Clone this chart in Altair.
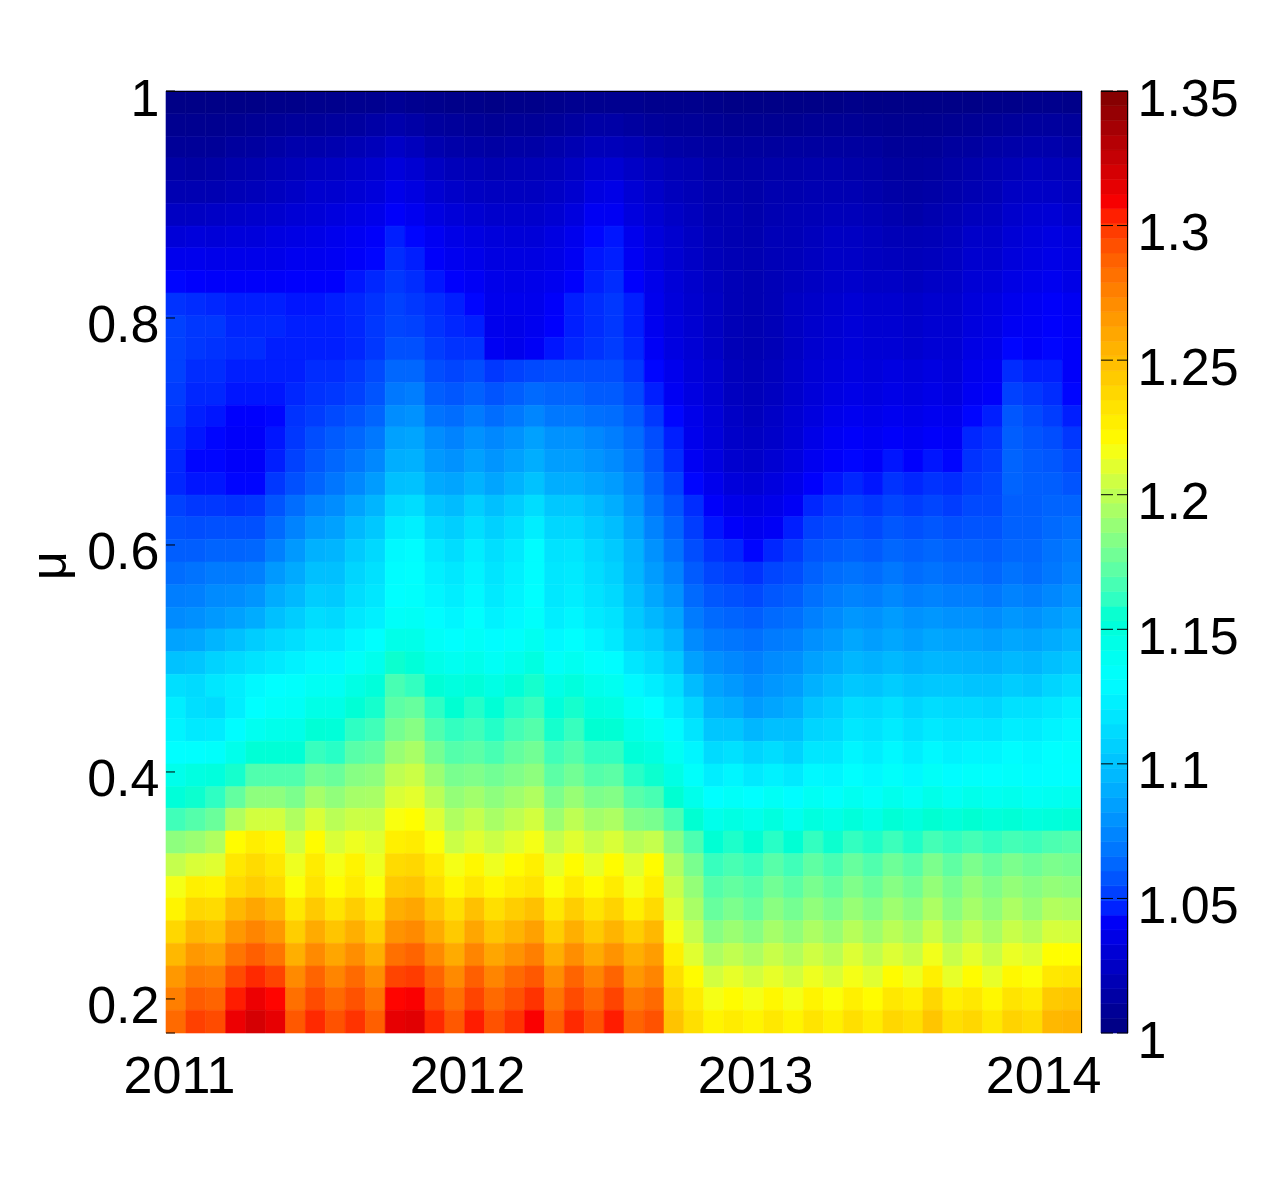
import altair as alt
import pandas as pd

# time edges of the columns (decimal years)
X_EDGES = [2010.955, 2011.024, 2011.093, 2011.162, 2011.232, 2011.301, 2011.370, 2011.439, 2011.508, 2011.577, 2011.647, 2011.716,
           2011.785, 2011.854, 2011.923, 2011.992, 2012.061, 2012.131, 2012.200, 2012.269, 2012.338, 2012.407, 2012.476, 2012.545,
           2012.615, 2012.684, 2012.753, 2012.822, 2012.891, 2012.960, 2013.030, 2013.099, 2013.168, 2013.237, 2013.306, 2013.375,
           2013.444, 2013.514, 2013.583, 2013.652, 2013.721, 2013.790, 2013.859, 2013.929, 2013.998, 2014.067, 2014.135]
# mu edges of the rows, top to bottom
MU_EDGES = [1.000, .980, .960, .941, .921, .901, .881, .862, .842, .822, .802, .783, .763, .743, .723, .704, .684, .664, .644, .625,
            .605, .585, .565, .545, .526, .506, .486, .466, .447, .427, .407, .387, .368, .348, .328, .308, .289, .269, .249, .229,
            .210, .190, .170]

# values, as thousandths above 1, one list per row, top to bottom
r01 = [3,3,3,3,3,4,4,5,5,6,6,8,6,5,4,4,3,4,4,5,6,6,6,6,5,5,5,4,3,3,3,3,3,3,4,3,3,3,3,3,3,4,4,5,5,4]
r02 = [6,6,6,7,8,9,10,10,11,12,14,16,14,11,10,9,8,9,9,10,12,14,14,12,10,9,9,8,7,7,7,7,8,8,8,7,6,6,6,7,8,9,10,11,11,10]
r03 = [9,9,9,11,12,14,16,16,17,19,21,25,22,17,15,14,13,14,14,16,18,21,21,19,16,14,13,12,11,11,11,12,12,12,12,11,9,9,9,11,12,14,15,16,16,14]
r04 = [14,13,14,16,17,19,21,23,24,26,28,32,29,24,21,20,18,19,20,21,24,28,29,25,22,19,18,15,14,14,15,15,16,16,15,14,12,11,12,14,16,18,20,22,21,20]
r05 = [18,18,18,20,21,23,25,28,28,30,32,37,34,29,26,24,23,23,23,25,28,34,36,30,26,22,20,17,16,15,17,17,18,18,18,16,14,13,14,16,18,20,24,25,25,23]
r06 = [24,24,25,26,27,28,30,31,33,35,37,42,39,34,31,29,27,27,27,29,33,40,40,33,29,25,22,18,18,16,18,19,20,21,21,19,17,15,17,19,22,23,27,29,30,27]
r07 = [31,32,31,32,32,34,35,36,38,40,42,46,44,40,36,34,32,31,31,34,38,44,45,38,32,28,24,20,18,17,20,20,22,24,24,22,20,19,20,22,26,26,30,32,34,32]
r08 = [38,38,37,37,37,37,39,39,40,42,44,48,46,42,39,37,34,34,34,36,40,45,46,40,34,29,25,21,19,18,20,21,23,25,25,23,22,21,22,24,28,28,32,34,36,34]
r09 = [44,43,42,42,42,42,43,43,43,45,47,50,48,45,43,41,37,36,37,39,43,46,48,43,37,31,27,23,20,18,20,22,24,26,27,25,25,23,25,26,30,31,35,37,39,36]
r10 = [49,48,47,46,46,46,45,45,46,47,49,52,50,48,46,44,38,38,38,42,46,48,50,46,38,32,28,24,20,18,20,24,26,28,30,28,28,26,28,28,32,34,38,40,42,40]
r11 = [52,50,50,47,47,47,46,46,46,47,50,53,52,49,47,46,38,37,39,43,46,48,50,46,39,33,29,24,20,18,20,24,27,29,31,29,29,27,29,29,33,35,40,41,43,41]
r12 = [52,50,49,48,48,46,46,46,46,47,50,56,56,51,49,49,40,38,41,45,47,49,51,47,41,34,30,25,20,18,20,24,28,30,32,30,30,28,30,30,35,37,44,42,44,42]
r13 = [52,48,48,46,46,46,46,48,48,50,54,63,63,55,53,55,50,52,54,55,55,55,55,50,44,38,32,28,22,20,22,26,30,32,34,32,34,32,34,32,38,40,48,46,46,42]
r14 = [51,47,47,45,45,45,47,49,50,52,57,69,71,60,58,61,57,60,64,62,62,59,59,54,46,40,34,29,23,21,23,27,31,34,36,34,36,34,36,34,40,42,52,50,48,44]
r15 = [50,46,45,43,43,44,49,51,54,57,62,77,79,67,65,70,65,69,74,69,69,66,65,59,50,44,37,31,25,22,25,29,33,37,39,37,39,37,39,38,44,46,58,54,51,46]
r16 = [48,45,44,42,42,45,50,55,59,63,69,85,87,77,73,79,75,79,85,79,79,75,71,65,55,46,38,32,26,24,26,30,36,40,42,40,42,40,42,41,47,49,60,57,55,50]
r17 = [47,44,44,42,42,46,52,58,63,68,75,91,92,82,79,85,80,85,91,84,84,80,76,69,58,48,40,34,28,26,29,33,39,42,44,42,45,43,45,44,49,51,62,59,58,54]
r18 = [47,45,45,44,44,50,56,62,68,75,83,99,100,89,87,93,87,93,100,91,91,87,83,75,62,52,44,38,32,30,33,37,43,45,47,45,49,47,49,48,51,53,62,60,60,57]
r19 = [52,50,50,49,50,57,65,73,77,86,94,110,113,101,97,106,99,105,113,103,103,97,91,81,67,57,48,42,37,35,37,41,47,50,52,50,53,51,53,51,54,54,60,60,62,62]
r20 = [56,55,56,56,56,64,73,82,85,96,103,120,123,110,106,114,107,113,122,110,110,104,98,87,73,62,51,45,42,39,41,46,52,54,56,54,58,56,58,56,57,57,61,61,64,66]
r21 = [60,60,62,62,63,72,82,92,94,104,111,128,130,119,113,122,114,120,130,116,117,110,104,93,79,67,55,49,47,44,47,51,57,59,61,59,63,61,63,61,61,60,63,63,67,70]
r22 = [65,67,70,70,72,82,89,99,99,109,115,130,132,123,119,125,117,123,130,118,120,113,107,95,83,73,59,53,51,49,53,55,61,65,67,65,69,65,67,65,65,63,67,65,69,73]
r23 = [71,72,76,77,80,90,96,105,104,113,118,131,133,126,122,128,120,125,131,119,122,116,111,99,88,79,64,58,56,54,58,60,66,70,73,71,75,71,73,71,71,69,73,71,75,79]
r24 = [76,78,82,85,90,99,105,113,111,119,123,135,137,130,126,132,124,128,134,122,126,120,116,104,95,87,70,64,62,60,64,66,72,76,81,79,83,79,81,79,79,77,81,79,83,87]
r25 = [86,88,94,99,105,110,114,120,120,126,132,144,144,136,132,136,130,134,140,128,132,126,120,108,104,94,76,70,68,66,70,72,78,82,88,84,88,84,88,86,86,84,88,86,90,94]
r26 = [100,102,108,112,116,120,124,128,128,136,142,156,152,144,140,143,137,142,148,136,140,134,130,118,112,104,85,78,75,72,76,78,85,89,95,92,96,92,95,94,93,92,96,94,99,103]
r27 = [114,112,118,122,128,131,133,138,138,146,151,167,162,153,149,152,146,152,157,145,150,143,140,128,122,114,97,86,82,77,81,84,92,97,103,101,105,101,103,103,101,101,105,103,109,113]
r28 = [122,114,112,122,131,135,137,145,145,153,157,172,175,161,155,159,153,159,163,151,157,149,147,137,131,121,109,93,90,83,87,91,101,105,113,111,115,109,113,111,111,109,115,115,119,123]
r29 = [125,120,121,130,140,143,144,153,152,161,165,179,184,169,162,165,159,166,170,157,163,155,154,144,139,129,117,102,102,95,99,99,109,111,119,116,121,115,120,117,118,117,122,121,125,128]
r30 = [131,132,134,143,153,153,153,163,160,171,174,189,194,179,170,172,167,174,178,165,170,162,162,152,148,138,126,112,115,109,113,108,118,118,126,122,128,122,128,124,126,126,130,128,131,133]
r31 = [143,148,150,157,169,169,169,179,176,184,186,200,204,190,180,182,178,182,186,172,178,170,172,160,156,146,134,122,126,120,124,120,128,126,132,128,134,128,136,130,134,132,134,130,132,132]
r32 = [152,156,161,174,186,186,181,193,187,193,194,208,211,199,188,192,186,191,196,181,189,181,183,171,167,155,143,131,135,131,137,130,138,134,140,135,142,137,144,139,143,140,142,138,140,142]
r33 = [165,170,176,196,206,206,196,208,199,204,203,217,219,209,196,202,194,200,206,190,200,192,195,183,180,168,155,143,147,143,149,141,149,145,151,145,153,149,155,151,155,151,153,149,151,153]
r34 = [186,190,196,220,227,223,206,220,208,214,210,226,228,218,204,210,204,210,216,202,210,202,208,198,202,184,168,154,158,154,160,154,162,156,162,158,164,158,166,162,166,162,166,164,168,170]
r35 = [202,208,210,230,236,230,214,228,216,224,214,236,238,228,216,222,214,220,226,212,220,212,220,210,220,196,180,163,167,163,171,165,173,167,175,169,177,171,181,173,181,175,181,177,181,179]
r36 = [216,226,224,236,242,236,218,232,220,228,218,244,246,234,222,230,222,228,232,218,228,220,228,216,226,203,188,170,174,170,178,172,180,174,182,176,184,178,188,180,188,182,188,184,188,186]
r37 = [224,238,236,252,260,252,230,244,232,242,230,256,260,246,234,248,234,242,248,230,242,232,240,226,236,209,194,175,181,175,185,179,187,181,189,183,191,185,195,185,193,187,195,189,197,195]
r38 = [238,252,248,266,274,266,242,258,246,256,242,268,272,258,244,260,246,254,262,242,256,244,254,242,252,216,202,184,190,184,193,187,195,189,198,191,199,193,204,193,201,194,203,198,207,206]
r39 = [252,266,262,280,288,280,256,272,260,270,256,282,286,272,258,274,260,268,276,256,270,258,268,256,264,226,210,195,201,195,203,197,205,199,209,201,209,203,215,203,211,203,213,209,219,219]
r40 = [266,278,276,294,302,296,272,286,274,284,270,296,298,286,272,288,274,284,290,270,286,274,286,266,274,234,220,206,212,206,212,206,214,208,216,210,220,214,226,212,220,212,222,218,230,232]
r41 = [276,289,286,304,312,306,282,294,284,292,280,306,308,294,282,296,284,292,300,280,294,284,296,278,284,241,228,216,220,216,222,216,224,218,226,220,230,226,238,226,230,222,232,228,244,246]
r42 = [284,297,294,312,320,314,290,302,292,300,288,314,316,302,290,304,292,300,308,288,302,292,304,286,292,247,234,224,228,224,230,224,232,226,234,228,238,234,246,234,238,230,240,236,252,254]
ROWS = [r01, r02, r03, r04, r05, r06, r07, r08, r09, r10, r11, r12, r13, r14, r15, r16, r17, r18, r19, r20, r21,
        r22, r23, r24, r25, r26, r27, r28, r29, r30, r31, r32, r33, r34, r35, r36, r37, r38, r39, r40, r41, r42]

X_TICKS = [2011, 2012, 2013, 2014]
Y_TICKS = [0.2, 0.4, 0.6, 0.8, 1]
Y_MARKS = [0.17, 0.2, 0.4, 0.6, 0.8, 1]
CB_TICKS = [1, 1.05, 1.1, 1.15, 1.2, 1.25, 1.3, 1.35]
CB_EDGES = [1.0000, 1.0055, 1.0109, 1.0164, 1.0219, 1.0273, 1.0328, 1.0383, 1.0438, 1.0492, 1.0547, 1.0602, 1.0656, 1.0711,
            1.0766, 1.0820, 1.0875, 1.0930, 1.0984, 1.1039, 1.1094, 1.1148, 1.1203, 1.1258, 1.1313, 1.1367, 1.1422, 1.1477,
            1.1531, 1.1586, 1.1641, 1.1695, 1.1750, 1.1805, 1.1859, 1.1914, 1.1969, 1.2023, 1.2078, 1.2133, 1.2188, 1.2242,
            1.2297, 1.2352, 1.2406, 1.2461, 1.2516, 1.2570, 1.2625, 1.2680, 1.2734, 1.2789, 1.2844, 1.2898, 1.2953, 1.3008,
            1.3063, 1.3117, 1.3172, 1.3227, 1.3281, 1.3336, 1.3391, 1.3445, 1.3500]

JET_DOMAIN = [1, 1.04375, 1.13125, 1.21875, 1.30625, 1.35]
JET_RANGE = ["#00007f", "#0000ff", "#00ffff", "#ffff00", "#ff0000", "#7f0000"]
FONT = "Liberation Sans"
W, H, CBW = 916, 942, 27

records = []
for i, row in enumerate(ROWS):
    for j, v in enumerate(row):
        records.append({"x": X_EDGES[j], "x2": X_EDGES[j + 1], "y": MU_EDGES[i + 1], "y2": MU_EDGES[i], "v": 1 + v / 1000})
grid = pd.DataFrame(records)
cbar = pd.DataFrame([{"y": a, "y2": b, "v": (a + b) / 2} for a, b in zip(CB_EDGES, CB_EDGES[1:])])

jet = alt.Scale(domain=JET_DOMAIN, range=JET_RANGE, clamp=True)
ys = alt.Scale(domain=[0.17, 1], nice=False, zero=False)
xs = alt.Scale(domain=[2010.955, 2014.135], nice=False, zero=False)
cs = alt.Scale(domain=[1, 1.35], nice=False, zero=False)

heat = alt.Chart(grid).mark_rect(strokeWidth=0.6).encode(
    x=alt.X("x:Q", scale=xs, axis=alt.Axis(values=X_TICKS, format="d", title=None, grid=False, domain=False, tickSize=0,
                                           labelFont=FONT, labelFontSize=52, labelColor="black", labelPadding=18)),
    x2="x2:Q",
    y=alt.Y("y:Q", scale=ys, axis=alt.Axis(values=Y_TICKS, format="~g", title="μ", titleFont=FONT, titleFontSize=50,
                                           titleFontWeight="normal", titleColor="black", titleX=-91, titleY=474,
                                           grid=False, domain=False, tickSize=0, labelFont=FONT, labelFontSize=52,
                                           labelColor="black", labelPadding=7, labelOffset=8)),
    y2="y2:Q",
    color=alt.Color("v:Q", scale=jet, legend=None),
    stroke=alt.Stroke("v:Q", scale=jet, legend=None),
)
mark_df = pd.DataFrame({"y": Y_MARKS})
y_marks = alt.Chart(mark_df).mark_rule(color="black", strokeWidth=1).encode(
    y=alt.Y("y:Q", scale=ys), x=alt.value(0), x2=alt.value(9))
top_line = alt.Chart(mark_df).mark_rule(color="black", strokeWidth=1).encode(
    y=alt.value(0.5), x=alt.value(0), x2=alt.value(W))
right_line = alt.Chart(mark_df).mark_rule(color="black", strokeWidth=1).encode(
    x=alt.value(W - 0.5), y=alt.value(0), y2=alt.value(H))
main = alt.layer(heat, y_marks, top_line, right_line).properties(width=W, height=H)

bar = alt.Chart(cbar).mark_rect(strokeWidth=0.6).encode(
    y=alt.Y("y:Q", scale=cs, axis=alt.Axis(values=CB_TICKS, format="~g", title=None, orient="right", grid=False, domain=False,
                                           tickSize=0, labelFont=FONT, labelFontSize=52, labelColor="black", labelPadding=9,
                                           labelOffset=8)),
    y2="y2:Q",
    x=alt.value(0), x2=alt.value(CBW),
    color=alt.Color("v:Q", scale=jet, legend=None),
    stroke=alt.Stroke("v:Q", scale=jet, legend=None),
)
cb_df = pd.DataFrame({"y": CB_TICKS})
cb_left = alt.Chart(cb_df).mark_rule(color="black", strokeWidth=1).encode(
    y=alt.Y("y:Q", scale=cs), x=alt.value(0), x2=alt.value(12))
cb_right = alt.Chart(cb_df).mark_rule(color="black", strokeWidth=1).encode(
    y=alt.Y("y:Q", scale=cs), x=alt.value(16), x2=alt.value(CBW))
cb_top = alt.Chart(cb_df).mark_rule(color="black", strokeWidth=1).encode(
    y=alt.value(0.5), x=alt.value(0), x2=alt.value(CBW))
cb_edge = alt.Chart(cb_df).mark_rule(color="black", strokeWidth=1).encode(
    x=alt.value(CBW - 0.5), y=alt.value(0), y2=alt.value(H))
side = alt.layer(bar, cb_left, cb_right, cb_top, cb_edge).properties(width=CBW, height=H)

chart = alt.hconcat(main, side, spacing=-1).resolve_scale(color="shared", stroke="shared", y="independent").properties(
    padding={"left": 17, "top": 65, "right": 5, "bottom": 5}, background="white"
).configure_view(stroke=None)

chart.save("out.html", embed_options={"renderer": "svg", "actions": False})
